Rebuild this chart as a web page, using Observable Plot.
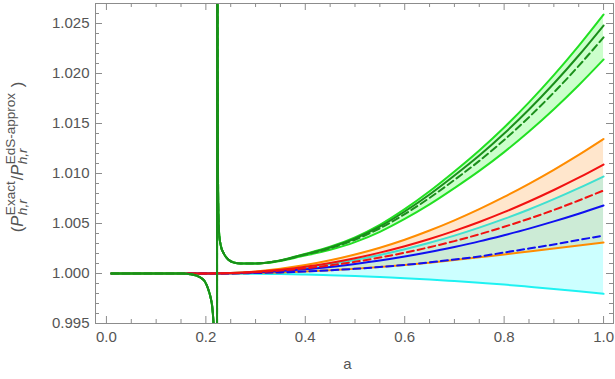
<!DOCTYPE html>
<html><head><meta charset="utf-8">
<script src="https://cdn.jsdelivr.net/npm/d3@7"></script>
<script src="https://cdn.jsdelivr.net/npm/@observablehq/plot@0.6"></script>
<style>body{margin:0;background:#fff} svg{display:block}</style>
</head><body><div id="chart"></div>
<script>
// ---- data ----
const aLow = [0.01, 0.05, 0.10, 0.15, 0.20, 0.25, 0.30, 0.35, 0.40, 0.45, 0.50, 0.55, 0.60, 0.65, 0.70, 0.75, 0.80, 0.85, 0.90, 0.95, 1.00];
const orangeUpper = [1,1,1,1,1, 1.00005, 1.00021, 1.00048, 1.00084, 1.00132, 1.0019, 1.00258, 1.00338, 1.0043, 1.00532, 1.00644, 1.00766, 1.00897, 1.01037, 1.01186, 1.01345];
const redSolid    = [1,1,1,1,1, 1.00004, 1.00017, 1.00038, 1.00068, 1.00106, 1.00153, 1.00209, 1.00273, 1.00345, 1.00426, 1.00515, 1.00613, 1.0072, 1.00835, 1.00958, 1.0109];
const turquoise   = [1,1,1,1,1, 1.00004, 1.00015, 1.00034, 1.00061, 1.00095, 1.00136, 1.00186, 1.00243, 1.00307, 1.00379, 1.00459, 1.00546, 1.0064, 1.00743, 1.00853, 1.0097];
const redDashed   = [1,1,1,1,1, 1.00003, 1.00013, 1.00029, 1.00052, 1.00081, 1.00117, 1.00159, 1.00208, 1.00263, 1.00324, 1.00392, 1.00467, 1.00548, 1.00635, 1.0073, 1.0083];
const blueSolid   = [1,1,1,1,1, 1.00003, 1.00011, 1.00024, 1.00043, 1.00066, 1.00096, 1.0013, 1.0017, 1.00215, 1.00266, 1.00321, 1.00383, 1.00449, 1.00521, 1.00598, 1.0068];
const blueDashed  = [1,1,1,1,1, 1.00001, 1.00005, 1.00011, 1.0002, 1.00032, 1.00047, 1.00065, 1.00086, 1.00111, 1.0014, 1.0017, 1.0021, 1.0025, 1.0029, 1.00335, 1.0038];
const orangeLower = [1,1,1,1,1, 1.00001, 1.00005, 1.00011, 1.0002, 1.00032, 1.00047, 1.00064, 1.00084, 1.00108, 1.00134, 1.00162, 1.0019, 1.0022, 1.0025, 1.0028, 1.0031];
const cyanLine    = [1,1,1,1,1, 0.99999, 0.99998, 0.99995, 0.9999, 0.99983, 0.99975, 0.99964, 0.99952, 0.9994, 0.99924, 0.99907, 0.99889, 0.99868, 0.99846, 0.99822, 0.99797];

const aGreen = [0.01, 0.05, 0.10, 0.15, 0.17, 0.189, 0.198, 0.205, 0.21, 0.213, 0.216, 0.218, 0.2205, 0.2218, 0.2222, 0.2228, 0.2235, 0.2245, 0.2255, 0.227, 0.23, 0.236, 0.245, 0.256, 0.27, 0.283, 0.30, 0.317, 0.35, 0.39, 0.45, 0.50, 0.55, 0.60, 0.65, 0.70, 0.75, 0.80, 0.85, 0.90, 0.95, 1.00];
const greenCenter = [1,1,1,1, 0.99993, 0.9996, 0.9992, 0.9984, 0.9975, 0.9966, 0.9945, 0.992, 0.985, 0.96, 0.8, 1.2, 1.03, 1.009, 1.0055, 1.0038, 1.0028, 1.002, 1.0014, 1.0011, 1.001, 1.001, 1.001, 1.00105, 1.0013, 1.0018, 1.0026, 1.0035, 1.0047, 1.0062, 1.0079, 1.0098, 1.0118, 1.014, 1.0164, 1.019, 1.0218, 1.0248];
const greenUpper  = [1,1,1,1, 0.99993, 0.9996, 0.9992, 0.9984, 0.9975, 0.9966, 0.9945, 0.992, 0.985, 0.96, 0.8, 1.2, 1.03, 1.009, 1.0055, 1.0038, 1.0028, 1.002, 1.0014, 1.0011, 1.001, 1.001, 1.001, 1.00105, 1.00131, 1.00184, 1.00267, 1.00362, 1.00487, 1.00644, 1.00822, 1.0102, 1.0123, 1.0146, 1.01711, 1.01983, 1.02276, 1.02589];
const greenDashed = [1,1,1,1, 0.99993, 0.9996, 0.9992, 0.9984, 0.9975, 0.9966, 0.9945, 0.992, 0.985, 0.96, 0.8, 1.2, 1.03, 1.009, 1.0055, 1.0038, 1.0028, 1.002, 1.0014, 1.0011, 1.001, 1.001, 1.001, 1.00105, 1.00129, 1.00176, 1.00252, 1.00338, 1.00452, 1.00594, 1.00756, 1.00936, 1.01126, 1.01335, 1.01563, 1.0181, 1.02076, 1.02361];
const greenLower  = [1,1,1,1, 0.99993, 0.9996, 0.9992, 0.9984, 0.9975, 0.9966, 0.9945, 0.992, 0.985, 0.96, 0.8, 1.2, 1.03, 1.009, 1.0055, 1.0038, 1.0028, 1.002, 1.0014, 1.0011, 1.001, 1.001, 1.001, 1.00104, 1.00126, 1.00169, 1.00237, 1.00314, 1.00417, 1.00546, 1.00691, 1.00854, 1.01026, 1.01214, 1.0142, 1.01643, 1.01883, 1.0214];

const xTicks = [0, 0.2, 0.4, 0.6, 0.8, 1.0];
const xMinor = [0.05, 0.1, 0.15, 0.25, 0.3, 0.35, 0.45, 0.5, 0.55, 0.65, 0.7, 0.75, 0.85, 0.9, 0.95];
const yTicks = [0.995, 1.000, 1.005, 1.010, 1.015, 1.020, 1.025];
const yMinor = [0.996, 0.997, 0.998, 0.999, 1.001, 1.002, 1.003, 1.004, 1.006, 1.007, 1.008, 1.009, 1.011, 1.012, 1.013, 1.014, 1.016, 1.017, 1.018, 1.019, 1.021, 1.022, 1.023, 1.024, 1.026];
const xDomain = [-0.022, 1.02];
const yDomain = [0.995, 1.027];

// ---- layout / style ----
const W = 615, H = 379, mL = 95, mR = 2, mT = 3, mB = 56;
const FONT = "'Liberation Sans', Arial, sans-serif";
const TXT = "#555";
const FRAME = "#8c8c8c";
const C = {orange: "#ff8c00", red: "#f21111", turq: "#40e0d0", blue: "#1010f0", cyan: "#1ef2f2", lime: "#22e022", dark: "#1a8f1a"};
const pxX = (xDomain[1] - xDomain[0]) / (W - mL - mR);
const pxY = (yDomain[1] - yDomain[0]) / (H - mT - mB);
const MAJ = 7, MIN = 4;

const rows = (xs, ys) => xs.map((a, i) => ({a, v: ys[i]}));
const band = (xs, y1, y2) => xs.map((a, i) => ({a, y1: y1[i], y2: y2[i]}));
const line = (xs, ys, stroke, dash) => Plot.line(rows(xs, ys), {x: "a", y: "v", stroke, strokeWidth: 2, curve: "monotone-x", clip: true, strokeDasharray: dash});
const area = (xs, y1, y2, fill) => Plot.areaY(band(xs, y1, y2), {x: "a", y1: "y1", y2: "y2", fill, fillOpacity: 0.2, curve: "monotone-x", clip: true});

const tickMarks = (vals, len) => [
  Plot.ruleX(vals, {x: d => d, y1: yDomain[0], y2: yDomain[0] + len * pxY, stroke: FRAME}),
  Plot.ruleX(vals, {x: d => d, y1: yDomain[1], y2: yDomain[1] - len * pxY, stroke: FRAME})
];
const tickMarksY = (vals, len) => [
  Plot.ruleY(vals, {y: d => d, x1: xDomain[0], x2: xDomain[0] + len * pxX, stroke: FRAME}),
  Plot.ruleY(vals, {y: d => d, x1: xDomain[1], x2: xDomain[1] - len * pxX, stroke: FRAME})
];

const dash = "7,4";
const chart = Plot.plot({
  width: W, height: H,
  marginLeft: mL, marginRight: mR, marginTop: mT, marginBottom: mB,
  style: {fontFamily: FONT, fontSize: "15px", background: "#fff"},
  x: {domain: xDomain},
  y: {domain: yDomain},
  marks: [
    area(aLow, orangeUpper, orangeLower, "#ff8000"),
    area(aLow, turquoise, cyanLine, "#00ffff"),
    area(aGreen, greenUpper, greenLower, "#00ff00"),
    line(aLow, cyanLine, C.cyan),
    line(aLow, turquoise, C.turq),
    line(aLow, orangeUpper, C.orange),
    line(aLow, orangeLower, C.orange),
    line(aLow, blueSolid, C.blue),
    line(aLow, blueDashed, C.blue, dash),
    line(aLow, redDashed, C.red, dash),
    line(aLow, redSolid, C.red),
    line(aGreen, greenUpper, C.lime),
    line(aGreen, greenLower, C.lime),
    line(aGreen, greenCenter, C.dark),
    line(aGreen, greenDashed, C.dark, dash),
    Plot.frame({stroke: FRAME}),
    ...tickMarks(xTicks, MAJ), ...tickMarks(xMinor, MIN),
    ...tickMarksY(yTicks, MAJ), ...tickMarksY(yMinor, MIN),
    Plot.axisX({ticks: xTicks, tickSize: 0, tickPadding: 8, tickFormat: d3.format(".1f"), fontSize: 15, color: TXT, label: null}),
    Plot.axisY({ticks: yTicks, tickSize: 0, tickPadding: 6, tickFormat: d3.format(".3f"), fontSize: 15, color: TXT, label: null}),
    Plot.text(["a"], {frameAnchor: "bottom", text: d => d, dy: 45, dx: -7, fontSize: 15, fill: TXT})
  ]
});
document.getElementById("chart").appendChild(chart);

// ---- rotated y-axis label with stacked sub/superscripts ----
const svg = d3.select(chart);
const label = svg.append("text")
  .attr("transform", "translate(23,157) rotate(-90)")
  .attr("text-anchor", "middle")
  .attr("font-family", FONT).attr("font-size", 16.5).attr("fill", TXT);
function subsup(main, sub, sup, after) {
  label.append("tspan").attr("font-style", "italic").text(main);
  const s = label.append("tspan").attr("font-size", 13.5).attr("font-style", "italic").attr("dy", 4).attr("dx", 0.5).text(sub);
  const p = label.append("tspan").attr("font-size", 13.5).attr("font-style", "normal").attr("dy", -12).text(sup);
  p.attr("dx", -s.node().getComputedTextLength());
  label.append("tspan").attr("font-size", 16.5).attr("font-style", "normal").attr("dy", 8).attr("dx", 1).text(after);
}
label.append("tspan").text("(");
subsup("P", "h,r", "Exact", "/");
subsup("P", "h,r", "EdS-approx", " )");
</script>
</body></html>
